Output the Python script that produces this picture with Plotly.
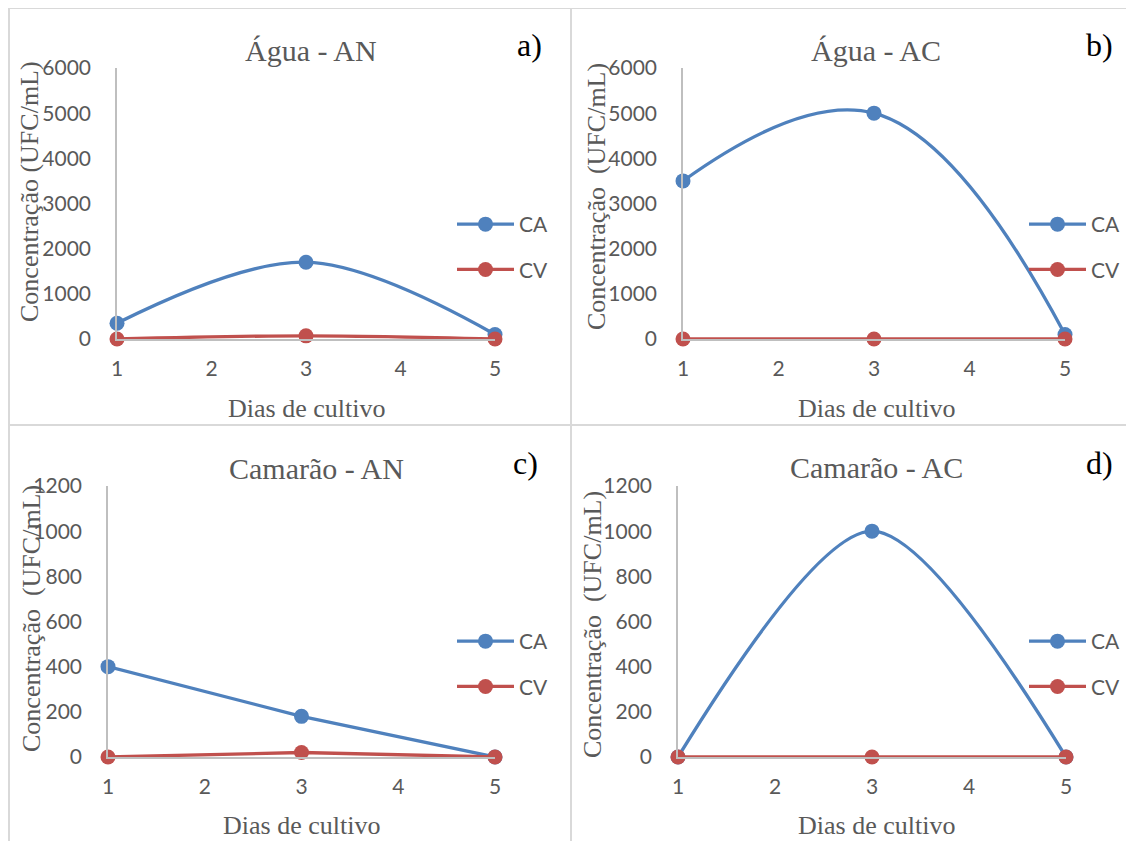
import plotly.graph_objects as go

W, H = 1134, 841
OX, OY = 8, 8  # page body offset of the figure inside the browser window

days = [1, 3, 5]
series_names = ["CA", "CV"]

agua_an_ca = [350, 1700, 100]
agua_an_cv = [0, 70, 0]
agua_ac_ca = [3500, 5000, 100]
agua_ac_cv = [0, 0, 0]
camarao_an_ca = [400, 180, 0]
camarao_an_cv = [0, 20, 0]
camarao_ac_ca = [0, 1000, 0]
camarao_ac_cv = [0, 0, 0]

titles = ["Água - AN", "Água - AC", "Camarão - AN", "Camarão - AC"]
letters = ["a)", "b)", "c)", "d)"]
ytitles = ["Concentração (UFC/mL)", "Concentração\u00a0 (UFC/mL)",
           "Concentração\u00a0 (UFC/mL)", "Concentração\u00a0 (UFC/mL)"]
xtitle = "Dias de cultivo"
yranges = [[0, 6000], [0, 6000], [0, 1200], [0, 1200]]
ydticks = [1000, 1000, 200, 200]
xticks = [1, 2, 3, 4, 5]

BLUE = "#4F81BD"
RED = "#C0504D"
GRAY_TXT = "#595959"
AXIS = "#BFBFBF"
SERIF = "Liberation Serif, Times New Roman, serif"
SANS = "Lato, Open Sans, sans-serif"


def px(x):
    return max(0.0, (x - OX) / W)


def py(y):
    return min(1.0, 1 - (y - OY) / H)


# panel geometry in window pixels: (x_left, x_right, y_bottom, y_top)
panels = [
    (117, 495, 339, 68),
    (683, 1065, 339, 68),
    (108, 495, 757, 486),
    (678, 1066, 757, 486),
]
shapes_line = ["spline", "spline", "linear", "spline"]
smooth = [1.0, 1.2, 1.0, 0.85]
data = [
    (agua_an_ca, agua_an_cv),
    (agua_ac_ca, agua_ac_cv),
    (camarao_an_ca, camarao_an_cv),
    (camarao_ac_ca, camarao_ac_cv),
]
title_pos = [(311, 50), (876, 50), (316, 468), (876, 467)]
letter_pos = [(529, 45), (1099, 45), (525, 463), (1099, 463)]
ytitle_pos = [(30, 192), (596, 197), (31, 619), (592, 625)]
xtitle_pos = [(306, 408), (876, 408), (301, 825), (876, 825)]
legend_pos = [(452, 204), (1024, 204), (452, 621), (1024, 621)]

fig = go.Figure()
layout = dict(
    width=W, height=H, autosize=False,
    margin=dict(l=0, r=0, t=0, b=0, pad=0, autoexpand=False),
    paper_bgcolor="white", plot_bgcolor="white",
    showlegend=True,
    annotations=[], shapes=[],
)

for i, (geo, (ca, cv)) in enumerate(zip(panels, data)):
    n = "" if i == 0 else str(i + 1)
    xl, xr, yb, yt = geo
    leg = "legend" if i == 0 else f"legend{i + 1}"
    for name, vals, col in zip(series_names, (ca, cv), (BLUE, RED)):
        fig.add_trace(go.Scatter(
            x=days, y=vals, name=name, mode="lines+markers",
            line=dict(color=col, width=3.3, shape=shapes_line[i], smoothing=smooth[i]),
            marker=dict(color=col, size=15),
            cliponaxis=False,
            xaxis="x" + n, yaxis="y" + n,
            legend=leg, legendgroup=f"{leg}{name}",
        ))
    layout["xaxis" + n] = dict(
        domain=[px(xl), px(xr)], anchor="y" + n, range=[1, 5],
        tickvals=xticks, showgrid=False, zeroline=False, automargin=False,
        showline=True, linecolor=AXIS, linewidth=1.5, ticks="",
        ticklabelstandoff=10,
        tickfont=dict(family=SANS, size=21, color=GRAY_TXT),
    )
    layout["yaxis" + n] = dict(
        domain=[py(yb), py(yt)], anchor="x" + n, range=yranges[i],
        dtick=ydticks[i], showgrid=False, zeroline=False, automargin=False,
        showline=True, linecolor=AXIS, linewidth=1.5, ticks="",
        ticklabelstandoff=20,
        tickfont=dict(family=SANS, size=21, color=GRAY_TXT),
    )
    lx, ly = legend_pos[i]
    layout[leg] = dict(
        x=px(lx), y=py(ly), xanchor="left", yanchor="top",
        bgcolor="rgba(0,0,0,0)", borderwidth=0,
        font=dict(family=SANS, size=21, color=GRAY_TXT),
        traceorder="grouped", tracegroupgap=15, itemwidth=57,
    )
    tx, ty = title_pos[i]
    layout["annotations"].append(dict(
        x=px(tx), y=py(ty), xref="paper", yref="paper", text=titles[i],
        showarrow=False, xanchor="center", yanchor="middle",
        font=dict(family=SERIF, size=30, color=GRAY_TXT),
    ))
    lx2, ly2 = letter_pos[i]
    layout["annotations"].append(dict(
        x=px(lx2), y=py(ly2), xref="paper", yref="paper", text=letters[i],
        showarrow=False, xanchor="center", yanchor="middle",
        font=dict(family=SERIF, size=32, color="black"),
    ))
    yx, yy = ytitle_pos[i]
    layout["annotations"].append(dict(
        x=px(yx), y=py(yy), xref="paper", yref="paper", text=ytitles[i],
        showarrow=False, xanchor="center", yanchor="middle", textangle=-90,
        font=dict(family=SERIF, size=26, color=GRAY_TXT),
    ))
    xx, xy = xtitle_pos[i]
    layout["annotations"].append(dict(
        x=px(xx), y=py(xy), xref="paper", yref="paper", text=xtitle,
        showarrow=False, xanchor="center", yanchor="middle",
        font=dict(family=SERIF, size=26, color=GRAY_TXT),
    ))

BORDER = "#D9D9D9"
for (x0, y0, x1, y1) in [(8, 8, W + OX, 8), (9, 8, 9, H + OY),
                         (571, 8, 571, H + OY), (8, 425, W + OX, 425)]:
    layout["shapes"].append(dict(
        type="line", xref="paper", yref="paper",
        x0=px(x0), y0=py(y0), x1=px(x1), y1=py(y1),
        line=dict(color=BORDER, width=2),
    ))

fig.update_layout(**layout)
fig.write_html("out.html")
